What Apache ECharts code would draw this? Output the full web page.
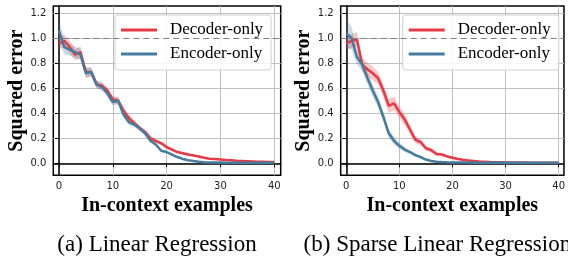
<!DOCTYPE html>
<html>
<head>
<meta charset="utf-8">
<script src="https://cdn.jsdelivr.net/npm/echarts@6/dist/echarts.min.js"></script>
<style>
  html, body { margin: 0; padding: 0; background: #fff; }
  #chart { width: 568px; height: 256px; }
</style>
</head>
<body>
<div id="chart"></div>
<script>
var myChart = echarts.init(document.getElementById('chart'));

// in-context examples 0..40
var steps = [0,1,2,3,4,5,6,7,8,9,10,11,12,13,14,15,16,17,18,19,20,
             21,22,23,24,25,26,27,28,29,30,31,32,33,34,35,36,37,38,39,40];
var xTicks = [0, 10, 20, 30, 40];
var yTicks = [0, 0.2, 0.4, 0.6, 0.8, 1.0, 1.2];
var baseline = 1.0;
var captions = ['(a) Linear Regression', '(b) Sparse Linear Regression'];

// (a) linear regression
var linDecoder = [0.96,0.98,0.93,0.87,0.89,0.73,0.73,0.63,0.62,0.58,0.51,0.50,0.42,0.36,0.32,0.28,0.25,0.20,0.18,0.16,0.13,
                  0.11,0.09,0.08,0.07,0.063,0.055,0.045,0.037,0.034,0.031,0.027,0.024,0.021,0.019,0.017,0.015,0.013,0.012,0.011,0.01];
var linDecSpread = [0.05,0.05,0.05,0.045,0.045,0.04,0.035,0.03,0.03,0.03,0.03,0.03,0.03,0.03,0.025,0.02,0.02,0.02,0.015,0.015,0.015,
                    0.012,0.01,0.01,0.008,0.008,0.007,0.006,0.006,0.005,0.005,0.004,0.004,0.004,0.004,0.004,0.004,0.004,0.004,0.004,0.004];
var linEncoder = [1.06,0.93,0.91,0.89,0.87,0.72,0.73,0.63,0.61,0.56,0.49,0.50,0.39,0.33,0.31,0.28,0.24,0.18,0.15,0.10,0.09,
                  0.07,0.05,0.035,0.025,0.018,0.012,0.009,0.007,0.006,0.006,0.005,0.005,0.005,0.005,0.005,0.005,0.005,0.005,0.005,0.005];
var linEncSpread = [0.08,0.06,0.05,0.045,0.045,0.04,0.035,0.03,0.03,0.03,0.03,0.03,0.03,0.025,0.02,0.02,0.02,0.015,0.015,0.012,0.01,
                    0.01,0.008,0.006,0.005,0.004,0.003,0.003,0.003,0.003,0.003,0.003,0.003,0.003,0.003,0.003,0.003,0.003,0.003,0.003,0.003];

// (b) sparse linear regression
var sparseDecoder = [0.96,0.98,0.99,0.79,0.75,0.72,0.68,0.58,0.46,0.48,0.41,0.35,0.27,0.19,0.17,0.12,0.105,0.075,0.07,0.055,0.045,
                     0.035,0.028,0.022,0.018,0.014,0.012,0.01,0.009,0.008,0.007,0.007,0.006,0.006,0.006,0.005,0.005,0.005,0.005,0.005,0.005];
var sparseDecSpread = [0.045,0.055,0.06,0.055,0.055,0.055,0.05,0.05,0.055,0.055,0.045,0.045,0.04,0.03,0.025,0.02,0.02,0.015,0.012,0.01,0.008,
                       0.007,0.006,0.005,0.005,0.004,0.004,0.004,0.004,0.004,0.004,0.004,0.004,0.004,0.004,0.004,0.004,0.004,0.004,0.004,0.004];
var sparseEncoder = [1.04,1.00,0.85,0.79,0.68,0.58,0.49,0.37,0.24,0.18,0.14,0.11,0.09,0.065,0.05,0.03,0.018,0.013,0.01,0.008,0.007,
                     0.006,0.006,0.006,0.005,0.005,0.005,0.005,0.005,0.005,0.005,0.005,0.005,0.005,0.005,0.005,0.005,0.005,0.005,0.005,0.005];
var sparseEncSpread = [0.12,0.09,0.06,0.05,0.05,0.05,0.045,0.04,0.035,0.03,0.025,0.02,0.015,0.012,0.01,0.008,0.006,0.005,0.004,0.003,0.003,
                       0.003,0.003,0.003,0.003,0.003,0.003,0.003,0.003,0.003,0.003,0.003,0.003,0.003,0.003,0.003,0.003,0.003,0.003,0.003,0.003];

const colors = ['#e63946', '#457b9d'];
var serif = 'Liberation Serif';

function pairs(vals) {
  return steps.map(function (x, i) { return [x, vals[i]]; });
}

// shaded band: one polygon built from the whole series
function band(idx, vals, spread, color) {
  var rows = steps.map(function (x, i) { return [x, vals[i] - spread[i], vals[i] + spread[i]]; });
  return {
    type: 'custom',
    xAxisIndex: idx,
    yAxisIndex: idx,
    silent: true,
    z: 1,
    encode: { x: 0, y: [1, 2] },
    data: rows,
    renderItem: function (params, api) {
      if (params.dataIndex !== 0) return;
      var pts = [];
      for (var i = 0; i < rows.length; i++) pts.push(api.coord([rows[i][0], rows[i][2]]));
      for (var j = rows.length - 1; j >= 0; j--) pts.push(api.coord([rows[j][0], rows[j][1]]));
      return { type: 'polygon', shape: { points: pts }, style: { fill: color, opacity: 0.28 } };
    }
  };
}

function line(idx, name, vals, color, withBaseline) {
  var s = {
    name: name,
    type: 'line',
    xAxisIndex: idx,
    yAxisIndex: idx,
    data: pairs(vals),
    showSymbol: false,
    z: 3,
    lineStyle: { width: 2.5, color: color },
    itemStyle: { color: color }
  };
  if (withBaseline) {
    s.markLine = {
      silent: true,
      symbol: 'none',
      label: { show: false },
      lineStyle: { type: [6, 4], color: '#808080', width: 1.2 },
      data: [{ yAxis: baseline }]
    };
  }
  return s;
}

function xAxis(idx, max) {
  return {
    type: 'value', gridIndex: idx, min: -1.05, max: max,
    name: 'In-context examples', nameLocation: 'middle', nameGap: 21,
    nameTextStyle: { fontFamily: serif, fontWeight: 'bold', fontSize: 20, color: '#000' },
    axisLine: { show: true, lineStyle: { color: '#000', width: 1.5 } },
    axisTick: { show: true, length: 4, customValues: xTicks, lineStyle: { color: '#000' } },
    axisLabel: { customValues: xTicks, margin: 6, fontFamily: 'DejaVu Sans', fontSize: 10, color: '#222' },
    splitLine: { show: true, lineStyle: { color: '#c0c0c0', width: 1 } }
  };
}

function yAxis(idx) {
  return {
    type: 'value', gridIndex: idx, min: -0.096, max: 1.258,
    name: 'Squared error', nameLocation: 'middle', nameGap: 26,
    nameTextStyle: { fontFamily: serif, fontWeight: 'bold', fontSize: 20, color: '#000' },
    axisLine: { show: true, lineStyle: { color: '#000', width: 1.5 } },
    axisTick: { show: true, length: 4, customValues: yTicks, lineStyle: { color: '#000' } },
    axisLabel: {
      customValues: yTicks, margin: 7, fontFamily: 'DejaVu Sans', fontSize: 10, color: '#222',
      formatter: function (v) { return v.toFixed(1); }
    },
    splitLine: { show: true, lineStyle: { color: '#c0c0c0', width: 1 } }
  };
}

function legend(left) {
  return {
    left: left, top: 15,
    orient: 'vertical',
    data: ['Decoder-only', 'Encoder-only'],
    icon: 'rect',
    itemWidth: 36, itemHeight: 3,
    itemGap: 4,
    padding: [5, 8, 6, 6],
    backgroundColor: 'rgba(255,255,255,0.85)',
    borderColor: '#d0d0d0', borderWidth: 1, borderRadius: 3,
    selectedMode: false,
    textStyle: { fontFamily: serif, fontSize: 17, color: '#000', lineHeight: 20, padding: [0, 0, 0, 8] }
  };
}

var option = {
  animation: false,
  backgroundColor: '#fff',
  color: colors,
  grid: [
    { left: 53.3, top: 6, width: 227.4, height: 169.3, show: true, borderColor: '#000', borderWidth: 1.5, backgroundColor: 'transparent' },
    { left: 340.7, top: 6, width: 226, height: 169.3, show: true, borderColor: '#000', borderWidth: 1.5, backgroundColor: 'transparent' }
  ],
  xAxis: [xAxis(0, 41.2), xAxis(1, 41.0)],
  yAxis: [yAxis(0), yAxis(1)],
  legend: [legend(115), legend(402.7)],
  graphic: [
    { type: 'text', x: 157, y: 245, style: { text: captions[0], font: '23px "Liberation Serif"', fill: '#000', textAlign: 'center', textVerticalAlign: 'middle' } },
    { type: 'text', x: 303.6, y: 245, style: { text: captions[1], font: '23px "Liberation Serif"', fill: '#000', textAlign: 'left', textVerticalAlign: 'middle' } }
  ],
  series: [
    band(0, linDecoder, linDecSpread, colors[0]),
    band(0, linEncoder, linEncSpread, colors[1]),
    line(0, 'Decoder-only', linDecoder, colors[0], true),
    line(0, 'Encoder-only', linEncoder, colors[1], false),
    band(1, sparseDecoder, sparseDecSpread, colors[0]),
    band(1, sparseEncoder, sparseEncSpread, colors[1]),
    line(1, 'Decoder-only', sparseDecoder, colors[0], true),
    line(1, 'Encoder-only', sparseEncoder, colors[1], false)
  ]
};

myChart.setOption(option);
</script>
</body>
</html>
